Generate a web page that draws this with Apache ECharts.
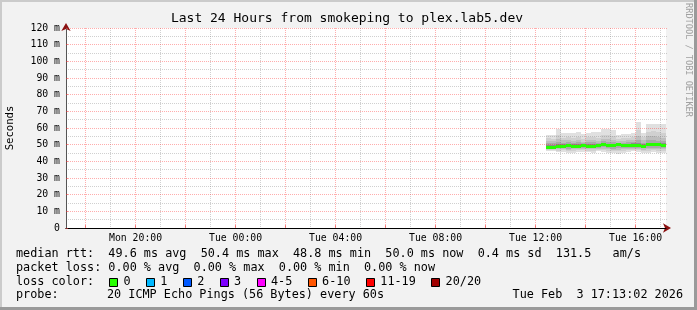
<!DOCTYPE html>
<html><head><meta charset="utf-8">
<script src="https://cdn.jsdelivr.net/npm/echarts@6/dist/echarts.min.js"></script>
<style>html,body{margin:0;padding:0;background:#f2f2f2}#c{width:697px;height:310px}</style>
</head><body><div id="c"></div>
<script>
// ---------------- data ----------------
// time axis in hours since Mon 00:00
const startHour = 17.2172;   // Mon 17:13:02
const endHour = 41.2172;     // Tue 17:13:02
const labelHours = [20, 24, 28, 32, 36, 40];
const labelTexts = ['Mon 20:00', 'Tue 00:00', 'Tue 04:00', 'Tue 08:00', 'Tue 12:00', 'Tue 16:00'];
const majorGridHours = [18, 20, 22, 24, 26, 28, 30, 32, 34, 36, 38, 40];
const minorGridHours = [19, 21, 23, 25, 27, 29, 31, 33, 35, 37, 39, 41];
const yTicks = [0, 10, 20, 30, 40, 50, 60, 70, 80, 90, 100, 110, 120];
const yMajorGrid = [10, 20, 30, 40, 50, 60, 70, 80, 90, 100, 110, 120];
const yMinorGrid = [5, 15, 25, 35, 45, 55, 65, 75, 85, 95, 105, 115];

// 12-minute consolidated bins (start hour of each bin)
const binStart = [36.4, 36.6, 36.8, 37.0, 37.2, 37.4, 37.6, 37.8, 38.0, 38.2, 38.4, 38.6,
                  38.8, 39.0, 39.2, 39.4, 39.6, 39.8, 40.0, 40.2, 40.4, 40.6, 40.8, 41.0];
const binHours = 0.2;
// median rtt (ms)
const median = [48.9, 48.9, 49.5, 49.5, 49.6, 49.5, 49.5, 49.6, 49.5, 49.5, 49.6, 50.3,
                49.6, 49.6, 50.3, 49.6, 49.6, 50.1, 50.1, 49.5, 50.4, 50.4, 50.4, 50.0];
// smoke bands (ms), outermost to innermost
const hi1 = [56.0, 55.8, 59.2, 57.0, 56.8, 57.2, 57.6, 56.2, 57.0, 57.6, 57.6, 59.2,
             59.2, 59.0, 55.6, 56.6, 56.6, 57.2, 63.6, 57.2, 62.6, 62.6, 62.4, 62.4];
const lo1 = [46.2, 46.0, 45.4, 45.8, 44.8, 45.0, 45.6, 45.8, 45.4, 45.2, 46.0, 45.6,
             45.2, 45.0, 44.6, 45.2, 45.8, 46.0, 45.4, 44.8, 45.0, 45.4, 44.8, 45.2];
const hi2 = [53.8, 53.4, 55.6, 54.2, 54.6, 54.0, 54.8, 53.2, 54.4, 54.8, 54.0, 55.6,
             55.8, 55.0, 53.4, 53.8, 54.2, 54.6, 58.6, 54.4, 57.8, 58.2, 57.4, 57.0];
const lo2 = [46.8, 46.8, 46.4, 46.8, 46.2, 46.4, 46.8, 46.8, 46.4, 46.4, 46.8, 46.8,
             46.4, 46.2, 46.0, 46.4, 46.8, 46.8, 46.6, 46.2, 46.4, 46.6, 46.2, 46.4];
const hi3 = [52.4, 52.0, 53.6, 52.6, 52.8, 52.4, 53.0, 51.8, 52.8, 53.0, 52.4, 53.6,
             53.6, 53.0, 52.0, 52.4, 52.6, 53.0, 55.4, 52.8, 55.0, 55.2, 54.6, 54.2];
const lo3 = [47.4, 47.4, 47.2, 47.4, 47.0, 47.2, 47.4, 47.4, 47.2, 47.2, 47.4, 47.6,
             47.2, 47.0, 47.0, 47.2, 47.4, 47.6, 47.4, 47.0, 47.4, 47.4, 47.2, 47.2];
const hi4 = [51.0, 50.8, 51.8, 51.2, 51.4, 51.0, 51.6, 50.8, 51.4, 51.4, 51.2, 52.0,
             51.8, 51.4, 51.0, 51.2, 51.4, 51.6, 52.8, 51.2, 52.6, 52.6, 52.4, 52.0];
const lo4 = [47.9, 47.9, 47.8, 48.0, 47.7, 47.8, 48.0, 48.0, 47.8, 47.8, 48.0, 48.4,
             47.9, 47.7, 47.8, 47.9, 48.0, 48.2, 48.0, 47.8, 48.2, 48.2, 48.0, 48.0];
const hi5 = [49.9, 49.9, 50.4, 50.4, 50.5, 50.4, 50.5, 50.5, 50.4, 50.4, 50.5, 51.2,
             50.5, 50.5, 51.2, 50.5, 50.5, 51.0, 51.1, 50.4, 51.3, 51.3, 51.3, 50.9];
const lo5 = [48.3, 48.3, 48.8, 48.8, 48.9, 48.8, 48.8, 48.9, 48.8, 48.8, 48.9, 49.5,
             48.9, 48.9, 49.5, 48.9, 48.9, 49.3, 49.3, 48.8, 49.6, 49.6, 49.6, 49.3];

// legend statistics
const rttStatNames = ['avg', 'max', 'min', 'now'];
const rttStatValues = [49.6, 50.4, 48.8, 50.0];
const rttSd = 0.4;
const rttAmS = 131.5;
const lossStatNames = ['avg', 'max', 'min', 'now'];
const lossStatValues = [0.00, 0.00, 0.00, 0.00];
const lossLabels = ['0', '1', '2', '3', '4-5', '6-10', '11-19', '20/20'];
const probeText = '20 ICMP Echo Pings (56 Bytes) every 60s';
const dateText = 'Tue Feb  3 17:13:02 2026';
const titleText = 'Last 24 Hours from smokeping to plex.lab5.dev';

// ---------------- styles ----------------
const lossColors = ['#26ff00', '#00b8ff', '#0059ff', '#7e00ff', '#ff00ff', '#ff5500', '#ff0000', '#a10000'];
const bandColors = ['#e0e0e0', '#d0d0d0', '#bebebe', '#a9a9a9', '#8c8c8c'];
const MONO = '"DejaVu Sans Mono", monospace';
const MAJ = 'rgba(255,40,40,0.38)';
const MIN = 'rgba(120,120,120,0.35)';

const chart = echarts.init(document.getElementById('c'), null, {renderer: 'canvas'});

function bandSeries(lo, hi, color) {
  return {
    type: 'custom', xAxisIndex: 0, yAxisIndex: 0, z: 1, silent: true, clip: true,
    data: binStart.map((t, i) => [t, t + binHours, lo[i], hi[i]]),
    encode: {x: [0, 1], y: [2, 3]},
    renderItem: (params, api) => {
      const a = api.coord([api.value(0), api.value(3)]);
      const b = api.coord([api.value(1), api.value(2)]);
      const x0 = Math.round(a[0]), x1 = Math.round(b[0]);
      const y0 = Math.round(a[1]), y1 = Math.round(b[1]);
      return {type: 'rect', shape: {x: x0, y: y0, width: x1 - x0, height: y1 - y0}, style: {fill: color}};
    }
  };
}

const medianSeries = {
  type: 'custom', xAxisIndex: 0, yAxisIndex: 0, z: 3, silent: true, clip: true,
  data: binStart.map((t, i) => [t, t + binHours, median[i]]),
  encode: {x: [0, 1], y: 2},
  renderItem: (params, api) => {
    const a = api.coord([api.value(0), api.value(2)]);
    const b = api.coord([api.value(1), api.value(2)]);
    const x0 = Math.round(a[0]), x1 = Math.round(b[0]);
    const yc = Math.round(a[1]);
    return {type: 'rect', shape: {x: x0, y: yc - 1, width: x1 - x0, height: 3}, style: {fill: lossColors[0]}};
  }
};

function vGridSeries(hours, color) {
  return {
    type: 'custom', xAxisIndex: 0, yAxisIndex: 0, z: 2, silent: true, clip: false,
    data: hours.map(h => [h, 0, 120]),
    encode: {x: 0, y: [1, 2]},
    renderItem: (params, api) => {
      const a = api.coord([api.value(0), api.value(2)]);
      const b = api.coord([api.value(0), api.value(1)]);
      const x = Math.floor(a[0]) + 0.5;
      return {type: 'line', shape: {x1: x, y1: a[1], x2: x, y2: b[1]},
              style: {stroke: color, lineWidth: 1, lineDash: [1, 1]}};
    }
  };
}
function hGridSeries(values, color) {
  return {
    type: 'custom', xAxisIndex: 0, yAxisIndex: 0, z: 2, silent: true, clip: false,
    data: values.map(v => [startHour, endHour, v]),
    encode: {x: [0, 1], y: 2},
    renderItem: (params, api) => {
      const a = api.coord([api.value(0), api.value(2)]);
      const b = api.coord([api.value(1), api.value(2)]);
      const y = Math.floor(a[1]) + 0.5;
      return {type: 'line', shape: {x1: a[0], y1: y, x2: b[0] + 2, y2: y},
              style: {stroke: color, lineWidth: 1, lineDash: [1, 1]}};
    }
  };
}

// legend graphics
const rowY = [254, 267.7, 281.5, 295.3];
const CW = 7.1;
function txt(x, y, s, size, extra) {
  return Object.assign({type: 'text', x: x, y: y, silent: true, z: 10,
    style: Object.assign({text: s, font: size + 'px ' + MONO, fill: '#000', align: 'left', verticalAlign: 'middle'}, extra || {})});
}
const rttLine = 'median rtt:  ' + rttStatValues.map((v, i) => v.toFixed(1) + ' ms ' + rttStatNames[i]).join('  ') +
  '  ' + rttSd.toFixed(1) + ' ms sd  ' + rttAmS.toFixed(1) + '   am/s';
const lossLine = 'packet loss: ' + lossStatValues.map((v, i) => v.toFixed(2) + ' % ' + lossStatNames[i]).join('  ');

const graphics = [];
// frame
graphics.push({type: 'rect', shape: {x: 0, y: 0, width: 697, height: 2}, style: {fill: '#cbcbcb'}, silent: true});
graphics.push({type: 'rect', shape: {x: 0, y: 0, width: 2, height: 310}, style: {fill: '#cbcbcb'}, silent: true});
graphics.push({type: 'rect', shape: {x: 0, y: 307, width: 697, height: 3}, style: {fill: '#9a9a9a'}, silent: true});
graphics.push({type: 'rect', shape: {x: 694, y: 0, width: 3, height: 310}, style: {fill: '#9a9a9a'}, silent: true});

graphics.push(txt(347, 19, titleText, 13, {align: 'center'}));
graphics.push(Object.assign(txt(10, 128, 'Seconds', 10.6, {align: 'center'}), {rotation: Math.PI / 2}));
graphics.push(Object.assign(txt(688, 60, 'RRDTOOL / TOBI OETIKER', 8.6, {align: 'center', fill: '#a0a0a0'}), {rotation: -Math.PI / 2}));
graphics.push(txt(16, rowY[0], rttLine, 11.8));
graphics.push(txt(16, rowY[1], lossLine, 11.8));
graphics.push(txt(16, rowY[2], 'loss color:', 11.8));
graphics.push(txt(16, rowY[3], 'probe:', 11.8));
graphics.push(txt(107, rowY[3], probeText, 11.8));
graphics.push(txt(683, rowY[3], dateText, 11.8, {align: 'right'}));
let cx = 109;
lossLabels.forEach((lab, i) => {
  const bx = Math.round(cx) + 0.5;
  graphics.push({type: 'rect', z: 10, silent: true, shape: {x: bx, y: 278.5, width: 8, height: 8},
    style: {fill: lossColors[i], stroke: '#000', lineWidth: 1}});
  graphics.push(txt(cx + 14.4, rowY[2], lab, 11.8));
  cx += 29.8 + CW * lab.length;
});

const option = {
  animation: false,
  backgroundColor: '#f2f2f2',
  grid: {left: 66, top: 28, width: 600, height: 200, show: true, backgroundColor: '#ffffff', borderWidth: 0},
  xAxis: [
    {type: 'value', min: startHour, max: endHour, z: 5, position: 'bottom',
     axisLine: {show: true, onZero: false, lineStyle: {color: '#000', width: 1}},
     axisTick: {show: true, inside: true, length: 3, customValues: majorGridHours, lineStyle: {color: 'rgba(240,60,60,0.6)'}},
     axisLabel: {show: true, customValues: labelHours, margin: 5, color: '#000', fontFamily: MONO, fontSize: 9.8,
                 formatter: v => labelTexts[labelHours.indexOf(Math.round(v))]},
     splitLine: {show: false}},
    {type: 'value', min: startHour, max: endHour, z: 4, position: 'bottom',
     axisLine: {show: true, onZero: false, symbol: ['none', 'arrow'], symbolSize: [7, 8], symbolOffset: [0, 5],
                lineStyle: {color: '#8b1010', width: 1}},
     axisTick: {show: false}, axisLabel: {show: false}, splitLine: {show: false}}
  ],
  yAxis: [
    {type: 'value', min: 0, max: 120, interval: 10, z: 5, position: 'left',
     axisLine: {show: true, onZero: false, lineStyle: {color: '#555', width: 1}},
     axisTick: {show: true, inside: true, length: 2, lineStyle: {color: 'rgba(240,60,60,0.6)'}},
     axisLabel: {show: true, margin: 6, color: '#000', fontFamily: MONO, fontSize: 9.8,
                 formatter: v => (yTicks.indexOf(v) >= 0 ? (v === 0 ? '0' : v + ' m') : '')},
     splitLine: {show: false}},
    {type: 'value', min: 0, max: 120, z: 4, position: 'left',
     axisLine: {show: true, onZero: false, symbol: ['none', 'arrow'], symbolSize: [7, 8], symbolOffset: [0, 5],
                lineStyle: {color: '#8b1010', width: 1}},
     axisTick: {show: false}, axisLabel: {show: false}, splitLine: {show: false}}
  ],
  series: [
    bandSeries(lo1, hi1, bandColors[0]),
    bandSeries(lo2, hi2, bandColors[1]),
    bandSeries(lo3, hi3, bandColors[2]),
    bandSeries(lo4, hi4, bandColors[3]),
    bandSeries(lo5, hi5, bandColors[4]),
    hGridSeries(yMinorGrid, MIN),
    vGridSeries(minorGridHours, MIN),
    hGridSeries(yMajorGrid, MAJ),
    vGridSeries(majorGridHours, MAJ),
    medianSeries
  ],
  graphic: graphics
};
chart.setOption(option);
</script>
</body></html>
